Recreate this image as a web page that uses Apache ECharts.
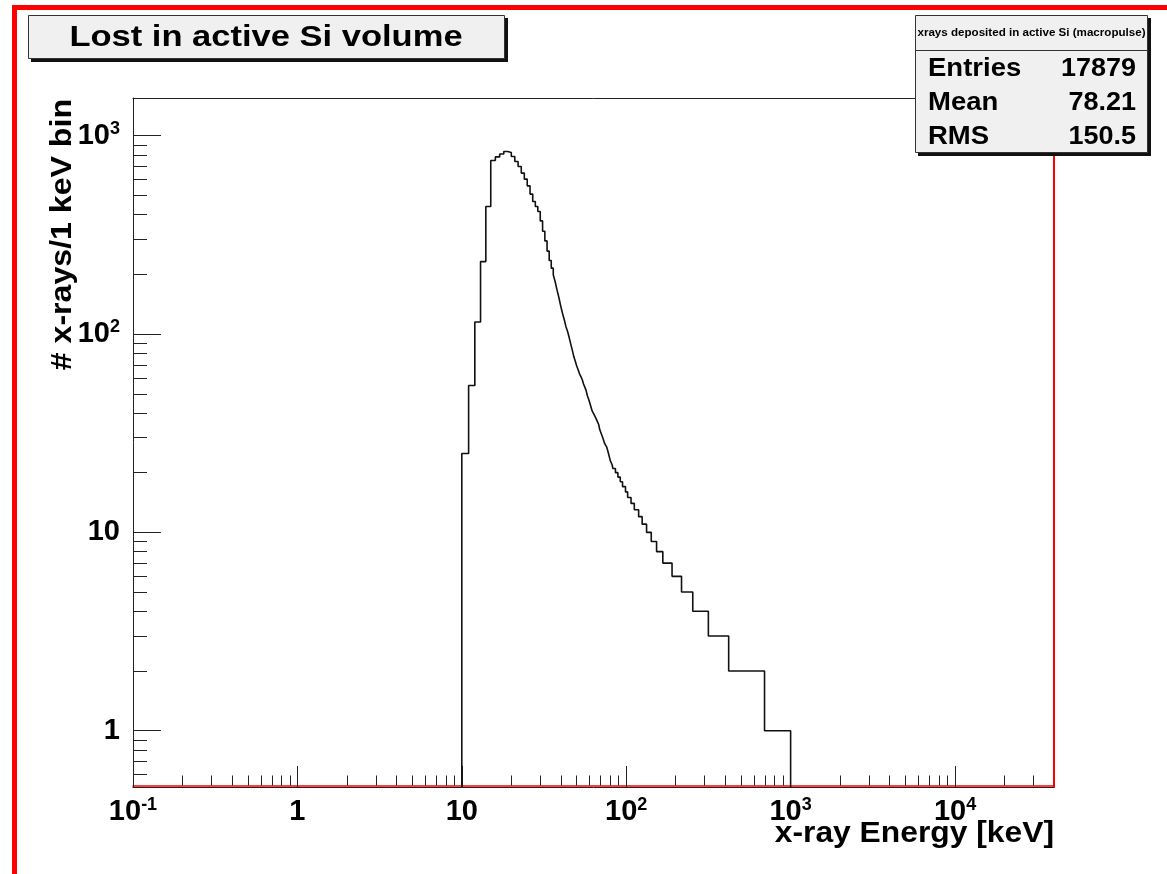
<!DOCTYPE html>
<html>
<head>
<meta charset="utf-8">
<script src="https://cdn.jsdelivr.net/npm/echarts@6.0.0/dist/echarts.min.js"></script>
<style>
html, body { margin: 0; padding: 0; background: #fff; }
#main { width: 1167px; height: 874px; }
</style>
</head>
<body>
<div id="main"></div>
<script>
// counts in 1 keV bins, first bin starts at 10 keV
var firstBin = 10;
var counts1keV = [25, 55, 115, 232, 440, 750, 782, 809, 833, 824, 786, 741, 700, 648, 604, 559, 508, 466, 440, 415,
    372, 330, 295, 262, 235, 215, 199, 183, 166, 152, 138, 127, 118, 109, 103, 96, 89, 83, 77, 73,
    69, 66, 63, 61, 59, 56, 54, 52, 49, 47, 45, 43, 41, 40, 39, 38, 37, 36, 35, 33,
    32, 31, 30, 29, 28, 28, 27, 26, 25, 24, 23, 23, 22];
// tail: energy [keV] where the bin content drops to the next integer level
var tailEdges = [83, 86, 89, 92, 95, 99, 102, 107, 112, 119, 125, 133, 142, 153, 167, 190, 217, 254, 316, 420, 694];
var tailCounts = [21, 20, 19, 18, 17, 16, 15, 14, 13, 12, 11, 10, 9, 8, 7, 6, 5, 4, 3, 2, 1];
var lastEdge = 1000;

// axis ranges and ticks
var xMin = 0.1, xMax = 40000;
var yMin = 0.52, yMax = 1550;
var xMajor = [0.1, 1, 10, 100, 1000, 10000];
var xLabels = ['{b|10}{s|-1}', '{b|1}', '{b|10}', '{b|10}{s|2}', '{b|10}{s|3}', '{b|10}{s|4}'];
var yMajor = [1, 10, 100, 1000];
var yLabels = ['{b|1}', '{b|10}', '{b|10}{s|2}', '{b|10}{s|3}'];

var statNames = ['Entries', 'Mean', 'RMS'];
var statValues = ['17879', '78.21', '150.5'];

function minorTicks(majors, lo, hi) {
    var out = [];
    majors.forEach(function (d) {
        for (var k = 2; k <= 9; k++) {
            var v = k * d;
            if (v > lo && v < hi) out.push(v);
        }
    });
    return out;
}
var xMinor = minorTicks(xMajor, xMin, xMax);
var yMinor = minorTicks([0.1].concat(yMajor), yMin, yMax);

function labelFor(majors, labels) {
    return function (v) {
        for (var i = 0; i < majors.length; i++) {
            if (Math.abs(Math.log10(v) - Math.log10(majors[i])) < 1e-6) return labels[i];
        }
        return '';
    };
}

// step points: value holds from each edge to the next
var points = [[firstBin, yMin]];
counts1keV.forEach(function (c, i) { points.push([firstBin + i, c]); });
tailEdges.forEach(function (e, i) { points.push([e, tailCounts[i]]); });
points.push([lastEdge, yMin]);

var font = 'Liberation Sans, Arial, Helvetica, sans-serif';
var rich = {
    b: { fontSize: 29, fontWeight: 'bold', fontFamily: font, color: '#000', lineHeight: 32 },
    s: { fontSize: 18, fontWeight: 'bold', fontFamily: font, color: '#000', padding: [0, 0, 14, 0] }
};

function logAxis(extra, lo, hi) {
    var ax = {
        type: 'log', min: lo, max: hi,
        axisLine: { show: false, onZero: false },
        axisTick: { show: false },
        axisLabel: { show: false },
        splitLine: { show: false },
        minorTick: { show: false },
        minorSplitLine: { show: false }
    };
    return Object.assign(ax, extra);
}

function txt(x, y, s, size, align, extra) {
    var el = {
        type: 'text', z: 102, x: x, y: y,
        style: { text: s, fontSize: size, fontWeight: 'bold', fontFamily: font, fill: '#000', align: align, verticalAlign: 'middle' }
    };
    return Object.assign(el, extra || {});
}

var chart = echarts.init(document.getElementById('main'));

var option = {
    animation: false,
    backgroundColor: '#fff',
    grid: { left: 133, right: 113, top: 98, bottom: 87, containLabel: false, outerBoundsMode: 'none' },
    xAxis: [
        logAxis({
            position: 'bottom',
            axisLine: { show: true, onZero: false, lineStyle: { color: '#222', width: 1 } },
            axisTick: { show: true, inside: true, length: 21, customValues: xMajor, lineStyle: { color: '#222', width: 1 } },
            axisLabel: { show: true, customValues: xMajor, margin: 9, formatter: labelFor(xMajor, xLabels), rich: rich }
        }, xMin, xMax),
        logAxis({
            position: 'bottom', offset: -1.5,
            axisLine: { show: true, onZero: false, lineStyle: { color: '#f00', width: 1.5 } },
            axisTick: { show: true, inside: true, length: 10, customValues: xMinor, lineStyle: { color: '#222', width: 1 } }
        }, xMin, xMax),
        logAxis({
            position: 'top',
            axisLine: { show: true, onZero: false, lineStyle: { color: '#222', width: 1 } }
        }, xMin, xMax)
    ],
    yAxis: [
        logAxis({
            position: 'left',
            axisLine: { show: true, onZero: false, lineStyle: { color: '#222', width: 1 } },
            axisTick: { show: true, inside: true, length: 28, customValues: yMajor, lineStyle: { color: '#222', width: 1 } },
            axisLabel: { show: true, customValues: yMajor, margin: 13, formatter: labelFor(yMajor, yLabels), rich: rich }
        }, yMin, yMax),
        logAxis({
            position: 'left',
            axisTick: { show: true, inside: true, length: 14, customValues: yMinor, lineStyle: { color: '#222', width: 1 } }
        }, yMin, yMax),
        logAxis({
            position: 'right',
            axisLine: { show: true, onZero: false, lineStyle: { color: '#f00', width: 2 } }
        }, yMin, yMax)
    ],
    series: [{
        name: 'xrays deposited in active Si (macropulse)',
        type: 'line',
        xAxisIndex: 0,
        yAxisIndex: 0,
        step: 'end',
        showSymbol: false,
        clip: true,
        data: points,
        lineStyle: { color: '#111', width: 1.6 }
    }],
    graphic: [
        // red canvas frame
        { type: 'rect', z: 100, shape: { x: 14.5, y: 7.5, width: 1200, height: 900 }, style: { fill: 'none', stroke: '#f00', lineWidth: 5 } },
        // title pave
        { type: 'rect', z: 100, shape: { x: 31, y: 18, width: 477, height: 44 }, style: { fill: '#111' } },
        { type: 'rect', z: 101, shape: { x: 28.5, y: 15.5, width: 476, height: 43 }, style: { fill: '#f0f0f0', stroke: '#333', lineWidth: 1 } },
        txt(266, 38, 'Lost in active Si volume', 29, 'center', { scaleX: 1.19 }),
        // stats box
        { type: 'rect', z: 100, shape: { x: 918, y: 18, width: 233, height: 138 }, style: { fill: '#111' } },
        { type: 'rect', z: 101, shape: { x: 915.5, y: 15.5, width: 232, height: 137 }, style: { fill: '#f0f0f0', stroke: '#333', lineWidth: 1 } },
        { type: 'line', z: 102, shape: { x1: 915.5, y1: 50.5, x2: 1147.5, y2: 50.5 }, style: { stroke: '#333', lineWidth: 1 } },
        txt(1031.5, 33, 'xrays deposited in active Si (macropulse)', 11.6, 'center'),
        txt(928, 69, statNames[0], 25, 'left', { scaleX: 1.1 }),
        txt(928, 103, statNames[1], 25, 'left', { scaleX: 1.1 }),
        txt(928, 137, statNames[2], 25, 'left', { scaleX: 1.1 }),
        txt(1136, 69, statValues[0], 25, 'right', { scaleX: 1.08 }),
        txt(1136, 103, statValues[1], 25, 'right', { scaleX: 1.08 }),
        txt(1136, 137, statValues[2], 25, 'right', { scaleX: 1.08 }),
        // axis titles
        txt(63, 99, '# x-rays/1 keV bin', 30, 'right', { rotation: Math.PI / 2, scaleX: 1.07 }),
        txt(1054, 834, 'x-ray Energy [keV]', 30, 'right', { scaleX: 1.06 })
    ]
};

chart.setOption(option);

window.addEventListener('resize', function () {
    chart.resize();
});
</script>
</body>
</html>
